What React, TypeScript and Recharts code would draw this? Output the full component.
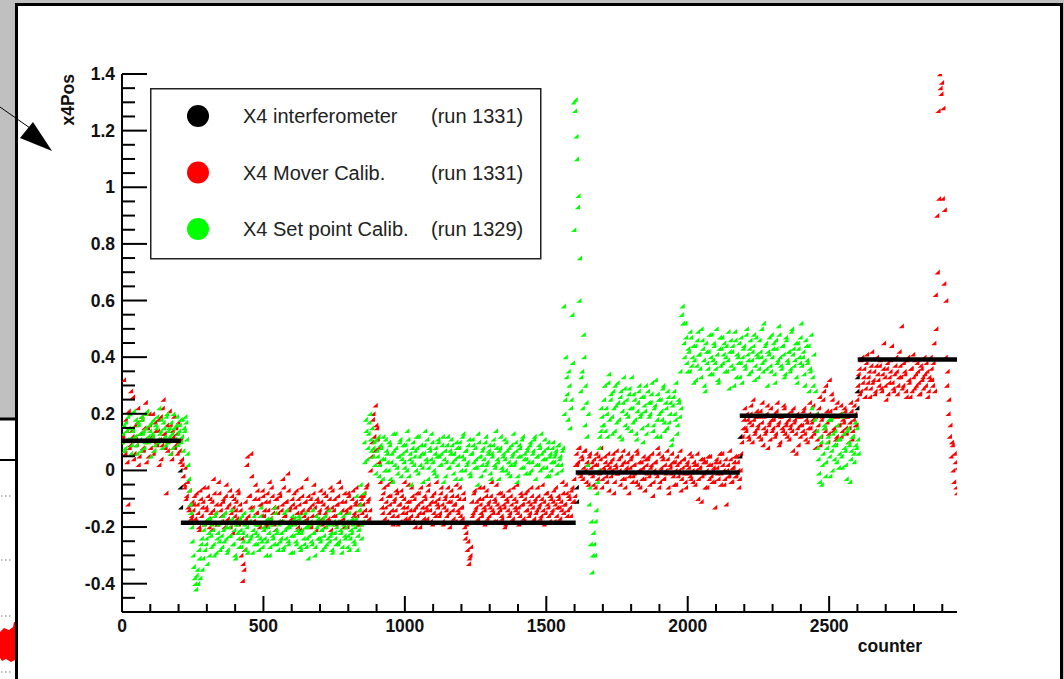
import { ScatterChart, Scatter, XAxis, YAxis, Legend } from 'recharts';

const FONT = '"Liberation Sans", Arial, Helvetica, sans-serif';
const STEP = 5; // counter spacing between stored samples
const OFFSET_B = 2; // second sample set sits 2 counts after the first

// X4 Mover Calib. (run 1331) — x4Pos in hundredths, one sample every STEP counts from counter 0
const redPlateau1 = [
  10, 32, 6, 14, -12, 8, 28, 12, 4, 16,
  9, 22, 5, 13, 18, 7, 11, 3, 15, 20,
  8, 12, 6, 17, 10, 14, 2, 19, 9, 25,
  13, -8, 7, 11, 16, 4, 12, 8, 15, 6,
  10, 3,
];
const redDrop1 = [4, -2, -6, -10, -4, -14, -12, -16];
const redPlateau2 = [
  -14, -9, -18, -12, -20, -7, -16, -11, -19, -13,
  -6, -17, -10, -21, -14, -8, -15, -19, -4, -12,
  -16, -11, -20, -9, -13, -18, -7, -15, -22, -10,
  -14, -17, -8, -12, -30, -39, -35, -11, 2, -16,
  -9, 6, -13, -18, -5, -15, -10, -20, -12, -7,
  -16, -11, -19, -14, -4, -17, -9, -13, -21, -10,
  -15, -8, -18, -12, -6, -16, -11, -1, -14, -19,
  -10, -17, -13, -7, -20, -12, -15, -9, -18, -11,
  -3, -14, -19, -10, -16, -8, -13, -21, -11, -15,
  -7, -17, -12, -20, -9, -14, -18, -6, -13, -16,
  -10, -19, -12, -4, -15, -11, -17, -8, -14, -20,
  -9, -13, -18, -7, -15, -11, -16, -12, -19, -10,
];
const redBump = [-12, -8, -16, -5, -10, -14, 5, 18, 12, 23, 15, 8, 2];
const redPlateau3 = [
  -10, -15, -6, -13, -18, -9, -12, -4, -16, -11,
  -14, -8, -19, -12, -7, -15, -10, -17, -13, -5,
  -11, -16, -9, -14, -20, -8, -12, -15, -6, -13,
  -17, -10, -14, -7, -12, -18, -9, -15, -11, -4,
  -13, -16, -8, -12, -19, -10, -14, -6, -15, -11,
  -9, -17, -12, -5, -14, -10, -16, -13, -8, -20,
  -22, -28, -33, -30, -11, -15, -7, -13, -18, -10,
  -12, -16, -6, -14, -9, -17, -11, -13, -4, -15,
  -10, -18, -12, -8, -14, -16, -9, -13, -19, -11,
  -7, -15, -12, -17, -10, -14, -5, -13, -16, -9,
  -12, -18, -8, -14, -11, -15, -6, -13, -17, -10,
  -14, -9, -12, -16, -5, -11, -15, -8, -13, -18,
  -10, -14, -7, -12, -16, -9, -13, -11, -4, -15,
  -12, -8, -14, -10, -16, -6, -11, -9,
];
const redPlateau4 = [
  6, 3, 8, -2, 4, 1, 7, -4, 2, 5,
  -1, 3, -5, 2, 6, -3, 0, 4, -6, 1,
  5, -2, 2, -7, 3, 0, 6, -4, 1, -1,
  4, -5, 2, 7, -3, 0, 3, -8, 1, 5,
  -2, 2, -4, 6, 0, -6, 3, 1, -3, 4,
  -1, 5, -5, 2, -9, 0, 3, -2, 6, -4,
  1, 4, -3, 0, 7, -6, 2, -1, 3, -5,
  0, 5, -2, 3, -7, 1, 4, -4, 2, -1,
  6, -3, 0, 3, -5, 2, -10, 1, 4, -2,
  3, -6, 0, 5, -3, 2, -4, 1, -13, 4,
  -1, 3, -5, 6, 0, -3, -12, 2, -2, 4,
  -4, 1, 5, -2, 3, -6, 0,
];
const redStep = [10, 15];
const redPlateau5 = [
  22, 14, 18, 11, 20, 16, 25, 13, 19, 15,
  12, 21, 17, 9, 19, 14, 23, 16, 11, 18,
  15, 20, 13, 24, 17, 10, 19, 14, 22, 16,
  12, 18, 15, 21, 7, 17, 13, 20, 9, 16,
  19, 14, 22, 11, 17, 15, 24, 12, 18, 13,
  8, 20, 16, 26, 12, 19, 28, 14, 21, 10,
  32, 18, 25, 15, 22, 12, 19, 16, 23, 14,
  17, 21, 13, 19, 15, 24, 11, 18, 20, 16,
];
const redPlateau6 = [
  30, 36, 28, 40, 33, 26, 38, 31, 35, 29,
  42, 32, 27, 37, 34, 30, 39, 28, 36, 33,
  25, 38, 31, 35, 44, 29, 34, 40, 27, 33,
  37, 51, 30, 35, 28, 39, 32, 26, 36, 41,
  29, 34, 38, 31, 27, 36, 33, 40, 30, 35,
  28, 32,
];
const redTail = [36, 30, 45, 62, 90, 127, 140, 133, 96, 66, 40, 30, 20, 12, 5, 9, -4, 3, -8];

// second Mover Calib. sample set, OFFSET_B counts later, same plateau lengths
const redPlateau1B = [
  12, 7, 18, 3, 21, 9, 14, 26, 6, 11,
  17, 2, 13, 19, 8, 15, 24, 10, 5, 16,
  12, 20, 7, 14, 9, 18, 11, 4, 22, 13,
  8, 16, 10, 21, 6, 14, 19, 9, 13, 17,
  7, 11,
];
const redDrop1B = [2, -5, 1, -9, -13, -7, -17, -11];
const redPlateau2B = [
  -12, -17, -8, -15, -21, -10, -13, -6, -18, -14,
  -9, -20, -15, -11, -3, -16, -12, -19, -8, -14,
  -18, -10, -15, -5, -17, -12, -20, -9, -13, -16,
  -11, -7, -19, -14, -24, -33, -28, -17, 5, -9,
  -13, -2, -18, -10, -15, -7, -19, -12, -16, -9,
  -14, -20, -8, -11, -17, -6, -15, -19, -10, -13,
  -18, -9, -14, -3, -16, -11, -20, -7, -13, -17,
  -12, -8, -18, -15, -10, -21, -6, -14, -16, -11,
  -17, -9, -13, -20, -12, -5, -16, -10, -18, -14,
  -11, -19, -8, -15, -13, -17, -10, -21, -7, -14,
  -16, -12, -9, -18, -6, -14, -20, -11, -15, -8,
  -13, -18, -10, -16, -12, -6, -19, -14, -9, -15,
];
const redBumpB = [-9, -14, -6, -11, -17, 0, 10, 20, 7, 16, 11, 3, -4];
const redPlateau3B = [
  -13, -8, -17, -11, -5, -15, -9, -14, -19, -10,
  -7, -16, -12, -18, -9, -13, -4, -15, -11, -17,
  -14, -6, -18, -10, -13, -16, -8, -20, -11, -15,
  -9, -13, -17, -5, -14, -11, -19, -8, -16, -12,
  -10, -15, -6, -18, -13, -9, -16, -11, -20, -7,
  -14, -12, -18, -9, -15, -6, -13, -17, -10, -24,
  -19, -25, -31, -27, -16, -8, -14, -11, -17, -6,
  -15, -10, -13, -19, -7, -12, -16, -9, -14, -18,
  -11, -5, -15, -13, -8, -17, -12, -20, -10, -14,
  -16, -9, -18, -6, -13, -11, -15, -19, -8, -12,
  -17, -10, -14, -7, -16, -12, -9, -18, -11, -15,
  -6, -13, -17, -10, -14, -19, -8, -12, -16, -9,
  -15, -11, -18, -6, -13, -10, -17, -14, -8, -12,
  -5, -16, -9, -13, -7, -11, -3, 2,
];
const redPlateau4B = [
  2, 8, -1, 5, -3, 7, 0, 3, -5, 6,
  1, -2, 4, -6, 2, 5, -1, 8, -3, 0,
  3, -4, 6, 1, -2, 4, -8, 2, 7, -1,
  0, 5, -3, 3, -6, 1, 6, -2, 4, -4,
  2, -1, 7, -5, 3, 0, -3, 5, -7, 2,
  4, -2, 1, 6, -4, 3, -1, 8, -6, 0,
  5, -3, 2, -1, 4, -8, 1, 6, -2, 3,
  -5, 2, 0, 7, -3, 4, -1, -6, 3, 1,
  -2, 5, -4, 2, 0, 6, -3, 1, -11, 4,
  -1, 3, -6, 2, 5, -2, 0, -4, 3, 1,
  -3, 6, -1, 2, -5, 4, 0, -2, 7, -4,
  1, 3, -2, 5, 0, -3, 6,
];
const redStepB = [12, 18];
const redPlateau5B = [
  15, 20, 12, 17, 23, 10, 18, 14, 21, 16,
  19, 11, 24, 15, 13, 20, 8, 17, 22, 14,
  18, 12, 21, 16, 9, 19, 15, 23, 13, 17,
  20, 11, 16, 14, 22, 18, 6, 15, 19, 12,
  16, 21, 13, 18, 10, 20, 15, 17, 23, 14,
  19, 11, 22, 9, 18, 25, 15, 30, 17, 13,
  21, 27, 14, 19, 11, 24, 16, 20, 12, 18,
  22, 15, 19, 10, 17, 21, 14, 23, 16, 25,
];
const redPlateau6B = [
  34, 27, 39, 31, 36, 29, 41, 33, 26, 37,
  31, 35, 28, 40, 32, 37, 29, 34, 45, 30,
  36, 27, 33, 39, 31, 28, 37, 35, 30, 42,
  33, 29, 38, 34, 26, 40, 31, 36, 28, 33,
  39, 30, 35, 27, 37, 32, 29, 34, 38, 26,
  33, 40,
];
const redTailB = [32, 38, 28, 50, 70, 96, 135, 137, 128, 92, 60, 35, 25, 16, 10, 0, 6, -6, 1];

// X4 Set point Calib. (run 1329) — same sampling
const greenPlateau1 = [
  10, 16, 8, 14, 19, 11, 6, 15, 21, 12,
  9, 17, 13, 7, 18, 14, 10, 20, 12, 16,
  5, 13, 18, 9, 15, 11, 22, 14, 8, 17,
  12, 19, 10, 15, 6, 13, 20, 11, 16, 9,
  14, 18, 12, 7,
];
const greenDrop = [14, 17, 6, -3, -12, -20, -30, -38];
const greenPlateau2 = [
  -42, -35, -28, -38, -24, -31, -19, -26, -33, -22,
  -17, -27, -21, -30, -15, -24, -19, -28, -23, -16,
  -25, -20, -29, -18, -23, -14, -26, -21, -31, -19,
  -24, -17, -27, -22, -15, -28, -20, -25, -18, -23,
  -29, -16, -22, -26, -19, -24, -13, -27, -21, -18,
  -25, -20, -30, -17, -23, -26, -15, -22, -28, -19,
  -24, -18, -27, -21, -14, -25, -20, -29, -16, -23,
  -19, -26, -22, -17, -28, -21, -24, -15, -27, -20,
  -23, -18, -26, -22, -30, -16, -24, -19, -25, -21,
  -17, -27, -20, -24, -14, -23, -28, -19, -22, -26,
  -18, -25, -21, -29, -16, -23, -20, -27, -15, -24,
  -22, -19, -26, -17, -28, -21, -12, -24, -18,
];
const greenRise = [10, 18, 4, 13, 20, 7];
const greenPlateau3 = [
  5, 10, -1, 7, 12, 2, 8, -3, 4, 11,
  6, 0, 9, 3, -4, 7, 13, 1, 5, 10,
  -2, 6, 3, 9, 0, 11, 4, -5, 8, 2,
  7, 12, -1, 5, 9, 1, 6, 14, 3, -3,
  8, 4, 10, 0, 6, -2, 11, 5, 2, 9,
  -4, 7, 3, 12, 1, 6, 9, -1, 4, 10,
  2, 8, -3, 5, 13, 0, 7, 3, 11, -2,
  6, 9, 1, 4, -5, 10, 5, 2, 8, 0,
  12, 3, 7, -1, 6, 9, 2, 14, 4, -3,
  8, 1, 5, 11, 0, 7, 3, -2, 9, 6,
  2, 10, -4, 5, 8, 1, 12, 4, -1, 7,
  3, 9, 0, 6, 11, -3, 5, 2, 8, 13,
  1, 7, 4, -2, 10, 5, 0, 8, 3, 6,
  -1, 9, 4, 2, 7,
];
const greenSpike = [
  58, 25, 33, 18, 30, 22, 55, 130, 127, 118,
  93, 60, 28, 35, 48, 16, 24, 2, -12, -26,
  -36, -22, -30, -14, -4, 8, 14, 19,
];
const greenPlateau4 = [
  16, 30, 22, 12, 34, 25, 19, 28, 14, 23,
  31, 18, 26, 11, 24, 29, 20, 15, 27, 22,
  33, 17, 25, 13, 21, 28, 19, 26, 10, 23,
  30, 16, 24, 20, 27, 14, 22, 32, 18, 25,
  12, 21, 29, 17, 24, 15, 26, 20, 9, 23,
  28, 18, 13, 25, 19, 22,
];
const greenPlateau5 = [
  58, 45, 52, 38, 43, 35, 47, 40, 31, 44,
  37, 49, 41, 33, 46, 39, 28, 42, 36, 48,
  40, 34, 45, 38, 50, 32, 43, 37, 47, 41,
  35, 44, 39, 29, 46, 42, 36, 49, 33, 40,
  45, 38, 31, 43, 37, 48, 41, 34, 46, 39,
  44, 32, 47, 40, 36, 42, 50, 35, 39, 45,
  30, 41, 37, 48, 43, 34, 46, 38, 51, 40,
  36, 44, 33, 47, 39, 42, 35, 49, 41, 37,
  45, 31, 43, 38, 52, 40, 34, 46, 39, 44,
  36, 48, 33, 41,
];
const greenPlateau6 = [
  28, 14, 4, -4, 10, 2, 16, -2, 8, 12,
  5, 18, 0, 9, 14, 3, 11, 6, 20, 1,
  13, 7, -3, 15, 9, 4, 12, 6, 17, 8,
  11,
];

// second Set point Calib. sample set
const greenPlateau1B = [
  13, 7, 17, 11, 15, 20, 9, 14, 12, 18,
  6, 16, 11, 19, 13, 8, 15, 21, 10, 14,
  17, 12, 7, 16, 19, 10, 13, 18, 11, 15,
  9, 20, 14, 12, 17, 8, 15, 11, 19, 13,
  16, 10, 18, 15,
];
const greenDropB = [19, 11, 2, -7, -15, -25, -34, -40];
const greenPlateau2B = [
  -37, -40, -31, -26, -35, -21, -28, -24, -17, -30,
  -23, -19, -26, -16, -29, -22, -25, -18, -27, -21,
  -15, -24, -28, -20, -23, -17, -26, -30, -19, -22,
  -27, -21, -16, -25, -19, -23, -29, -18, -24, -14,
  -21, -26, -19, -23, -28, -16, -25, -20, -24, -30,
  -17, -22, -27, -19, -24, -13, -21, -26, -18, -25,
  -22, -28, -15, -24, -20, -26, -19, -23, -29, -17,
  -25, -21, -16, -27, -22, -18, -26, -20, -24, -31,
  -19, -25, -14, -22, -27, -20, -17, -24, -21, -28,
  -23, -16, -26, -19, -25, -22, -29, -18, -24, -20,
  -26, -15, -22, -27, -19, -24, -18, -23, -28, -21,
  -17, -25, -20, -9, -23, -14, -5, -19, -8,
];
const greenRiseB = [3, 14, 8, 17, 11, 15];
const greenPlateau3B = [
  8, 2, 11, 5, -2, 9, 4, 12, 0, 7,
  3, 10, -3, 6, 13, 2, 8, -1, 5, 11,
  4, 9, 1, 7, 14, -2, 6, 3, 10, 5,
  0, 8, 12, 2, 6, -4, 9, 4, 11, 1,
  7, 13, 3, -1, 8, 5, 10, 2, 6, 12,
  4, -2, 9, 1, 7, 11, 3, 6, -3, 8,
  5, 10, 0, 12, 4, 7, 2, 9, -1, 6,
  11, 3, 8, 1, 13, 5, -2, 7, 4, 10,
  2, 6, 9, -3, 5, 11, 1, 8, 3, 7,
  12, 0, 6, 4, 10, -1, 8, 2, 5, 13,
  3, 7, -2, 9, 5, 11, 1, 6, 4, 8,
  -1, 10, 3, 7, 12, 2, 5, 9, 0, 6,
  4, 11, 1, 8, -2, 6, 3, 10, 5, 7,
  2, 9, 5, 0, 8,
];
const greenSpikeB = [
  20, 40, 27, 35, 15, 25, 38, 85, 131, 110,
  97, 75, 33, 22, 40, 30, 12, 20, -6, -18,
  -30, -26, -18, -8, 0, 12, 22, 16,
];
const greenPlateau4B = [
  25, 14, 20, 31, 18, 27, 13, 22, 30, 17,
  24, 12, 28, 21, 33, 16, 25, 19, 29, 14,
  22, 27, 18, 11, 24, 30, 20, 15, 26, 21,
  13, 28, 19, 24, 31, 16, 23, 12, 27, 20,
  25, 18, 30, 14, 22, 28, 17, 24, 11, 26,
  20, 31, 16, 24, 35, 55,
];
const greenPlateau5B = [
  52, 40, 47, 35, 42, 49, 37, 44, 39, 32,
  46, 41, 36, 50, 43, 30, 45, 38, 42, 34,
  48, 39, 44, 36, 41, 31, 47, 43, 38, 45,
  40, 35, 49, 42, 37, 44, 30, 46, 41, 38,
  33, 47, 40, 44, 36, 50, 39, 43, 35, 42,
  48, 37, 41, 33, 46, 40, 38, 52, 44, 36,
  42, 47, 35, 40, 45, 31, 43, 39, 48, 37,
  44, 41, 34, 46, 38, 42, 36, 50, 43, 39,
  33, 45, 40, 47, 37, 42, 30, 44, 38, 28,
  35, 22, 30, 18,
];
const greenPlateau6B = [
  20, 8, -1, 12, -5, 6, 15, 3, 10, 18,
  -2, 7, 13, 4, 9, 16, 1, 11, 5, 19,
  8, 2, 14, 10, -4, 7, 12, 3, 9, 15,
  6,
];

// X4 interferometer (run 1331): flat levels between moves, plus the few samples taken mid-move
const interfStart = [0, 208, 1604, 2184, 2601];
const interfEnd = [208, 1604, 2184, 2601, 2952];
const interfLevel = [0.105, -0.185, -0.007, 0.193, 0.392];
const interfMoveX = [205, 205, 207, 1606, 1607, 2184, 2184, 2598, 2598, 2599];
const interfMoveY = [0.0, -0.06, -0.13, -0.06, -0.11, 0.05, 0.12, 0.22, 0.28, 0.33];

const xMajorTicks = [0, 500, 1000, 1500, 2000, 2500];
const yMajorTicks = [-0.4, -0.2, 0, 0.2, 0.4, 0.6, 0.8, 1, 1.2, 1.4];

const legendLabels = ['X4 interferometer', 'X4 Mover Calib.', 'X4 Set point Calib.'];
const legendRuns = ['(run 1331)', '(run 1331)', '(run 1329)'];
const legendColors = ['#000000', '#ff0000', '#00ff00'];

const redValues = [
  ...redPlateau1, ...redDrop1, ...redPlateau2, ...redBump, ...redPlateau3,
  ...redPlateau4, ...redStep, ...redPlateau5, ...redPlateau6, ...redTail,
];
const redValuesB = [
  ...redPlateau1B, ...redDrop1B, ...redPlateau2B, ...redBumpB, ...redPlateau3B,
  ...redPlateau4B, ...redStepB, ...redPlateau5B, ...redPlateau6B, ...redTailB,
];
const greenValues = [
  ...greenPlateau1, ...greenDrop, ...greenPlateau2, ...greenRise, ...greenPlateau3,
  ...greenSpike, ...greenPlateau4, ...greenPlateau5, ...greenPlateau6,
];
const greenValuesB = [
  ...greenPlateau1B, ...greenDropB, ...greenPlateau2B, ...greenRiseB, ...greenPlateau3B,
  ...greenSpikeB, ...greenPlateau4B, ...greenPlateau5B, ...greenPlateau6B,
];

const toPoints = (vals: number[], first: number) =>
  vals.map((v, i) => ({ x: first + i * STEP, y: v / 100 }));
const redData = [...toPoints(redValues, 0), ...toPoints(redValuesB, OFFSET_B)];
const greenData = [...toPoints(greenValues, 0), ...toPoints(greenValuesB, OFFSET_B)];
const interfSegments = interfLevel.map((y, i) => [
  { x: interfStart[i], y },
  { x: interfEnd[i], y },
]);
const interfMoves = interfMoveX.map((x, i) => ({ x, y: interfMoveY[i] }));

// minor ticks every 100 counts / 0.05 in x4Pos
const xTicks = Array.from({ length: 30 }, (_, i) => i * 100);
const yTicks = Array.from({ length: 39 }, (_, i) => Math.round((i * 0.05 - 0.5) * 100) / 100);

const isXMajor = (v: number) => xMajorTicks.includes(v);
const isYMajor = (v: number) => yMajorTicks.some(t => Math.abs(t - v) < 1e-6);

// small ROOT-style triangle marker
const marker = (color: string) => (props: any) => {
  const { cx, cy } = props;
  if (cx == null || cy == null) return <g />;
  return <path d={`M${cx - 2.6},${cy + 2.2}L${cx + 2.6},${cy + 2.2}L${cx + 2.6},${cy - 2.6}Z`} fill={color} />;
};

const XTick = (props: any) => {
  const { x, y, payload } = props;
  const major = isXMajor(payload.value);
  return (
    <g>
      <line x1={x} y1={y} x2={x} y2={y - (major ? 16 : 8)} stroke="#000" strokeWidth={2} />
      {major && (
        <text x={x} y={y + 20} textAnchor="middle" fontFamily={FONT} fontWeight="bold" fontSize={17.5} fill="#111">
          {payload.value}
        </text>
      )}
    </g>
  );
};

const YTick = (props: any) => {
  const { x, y, payload } = props;
  const major = isYMajor(payload.value);
  const label = payload.value === 0 ? '0' : String(Number(payload.value.toFixed(1)));
  return (
    <g>
      <line x1={x} y1={y} x2={x + (major ? 25 : 13)} y2={y} stroke="#000" strokeWidth={2} />
      {major && (
        <text x={x - 7} y={y + 6} textAnchor="end" fontFamily={FONT} fontWeight="bold" fontSize={17.5} fill="#111">
          {label}
        </text>
      )}
    </g>
  );
};

function RootLegend() {
  return (
    <svg width={392} height={172} style={{ display: 'block' }}>
      <rect x={0.75} y={0.75} width={390} height={170} fill="#fff" stroke="#222" strokeWidth={1.5} />
      {legendLabels.map((label, i) => {
        const cy = 28 + i * 56.5;
        return (
          <g key={label}>
            <circle cx={48} cy={cy} r={11} fill={legendColors[i]} />
            <text x={93} y={cy + 7} fontFamily={FONT} fontSize={20} fill="#222">{label}</text>
            <text x={281} y={cy + 7} fontFamily={FONT} fontSize={20} fill="#222">{legendRuns[i]}</text>
          </g>
        );
      })}
    </svg>
  );
}

// surrounding canvas windows
function Backdrop() {
  return (
    <svg width={1064} height={679} style={{ position: 'absolute', left: 0, top: 0 }}>
      <rect x={0} y={0} width={1064} height={679} fill="#c0c0c0" />
      <rect x={16.5} y={4.5} width={1045} height={690} fill="#fff" stroke="#000" strokeWidth={3} />
      <rect x={-2} y={419} width={17} height={270} fill="#fff" />
      <line x1={0} y1={419} x2={15} y2={419} stroke="#000" strokeWidth={3} />
      <line x1={0} y1={460} x2={15} y2={460} stroke="#000" strokeWidth={2} />
      {[496, 560, 616, 672].map(y => (
        <line key={y} x1={1} y1={y} x2={12} y2={y} stroke="#777" strokeWidth={1.2} strokeDasharray="1.5 2.5" />
      ))}
      <path d="M0,632 L4,628 L9,630 L13,627 L14,622 L15,622 L15,660 L11,662 L6,659 L2,661 L0,658 Z" fill="#ff0000" />
      <line x1={0} y1={107} x2={30} y2={128} stroke="#000" strokeWidth={1} />
      <polygon points="20,138 33,122 52,151" fill="#000" />
    </svg>
  );
}

export default function App() {
  return (
    <div style={{ position: 'absolute', left: 0, top: 0, width: 1064, height: 679, overflow: 'hidden' }}>
      <Backdrop />
      <div style={{ position: 'absolute', left: 0, top: 0 }}>
        <ScatterChart width={1064} height={679} margin={{ top: 74, right: 107, bottom: 37, left: 62 }}>
          <XAxis
            type="number"
            dataKey="x"
            domain={[0, 2952]}
            ticks={xTicks}
            interval={0}
            allowDataOverflow
            height={30}
            tickSize={0}
            tickMargin={0}
            tickLine={false}
            tick={<XTick />}
            axisLine={{ stroke: '#000', strokeWidth: 2 }}
            label={() => (
              <text x={922} y={652} textAnchor="end" fontFamily={FONT} fontWeight="bold" fontSize={17.5} fill="#111">
                counter
              </text>
            )}
          />
          <XAxis
            xAxisId="frame"
            orientation="top"
            type="number"
            domain={[0, 1]}
            height={0}
            tick={false}
            tickLine={false}
            axisLine={{ stroke: '#444', strokeWidth: 2 }}
          />
          <YAxis
            type="number"
            dataKey="y"
            domain={[-0.5, 1.4]}
            ticks={yTicks}
            interval={0}
            allowDataOverflow
            width={60}
            tickSize={0}
            tickMargin={0}
            tickLine={false}
            tick={<YTick />}
            axisLine={{ stroke: '#000', strokeWidth: 2 }}
            label={() => (
              <text
                x={74}
                y={74}
                transform="rotate(-90 74 74)"
                textAnchor="end"
                fontFamily={FONT}
                fontWeight="bold"
                fontSize={17.5}
                fill="#111"
              >
                x4Pos
              </text>
            )}
          />
          <YAxis
            yAxisId="frame"
            orientation="right"
            type="number"
            domain={[0, 1]}
            width={0}
            tick={false}
            tickLine={false}
            axisLine={{ stroke: '#444', strokeWidth: 2 }}
          />
          <Legend
            layout="horizontal"
            verticalAlign="middle"
            align="center"
            content={() => <RootLegend />}
            wrapperStyle={{ left: 150, top: 88, width: 392, height: 172 }}
          />
          <Scatter name="X4 Mover Calib." data={redData} shape={marker('#ff0000')} isAnimationActive={false} />
          <Scatter name="X4 Set point Calib." data={greenData} shape={marker('#00ff00')} isAnimationActive={false} />
          {interfSegments.map((seg, i) => (
            <Scatter
              key={`interf-${i}`}
              name="X4 interferometer"
              data={seg}
              line={{ stroke: '#000', strokeWidth: 4.5 }}
              shape={() => <g />}
              legendType="none"
              isAnimationActive={false}
            />
          ))}
          <Scatter name="X4 interferometer" data={interfMoves} shape={marker('#000000')} legendType="none" isAnimationActive={false} />
        </ScatterChart>
      </div>
    </div>
  );
}
